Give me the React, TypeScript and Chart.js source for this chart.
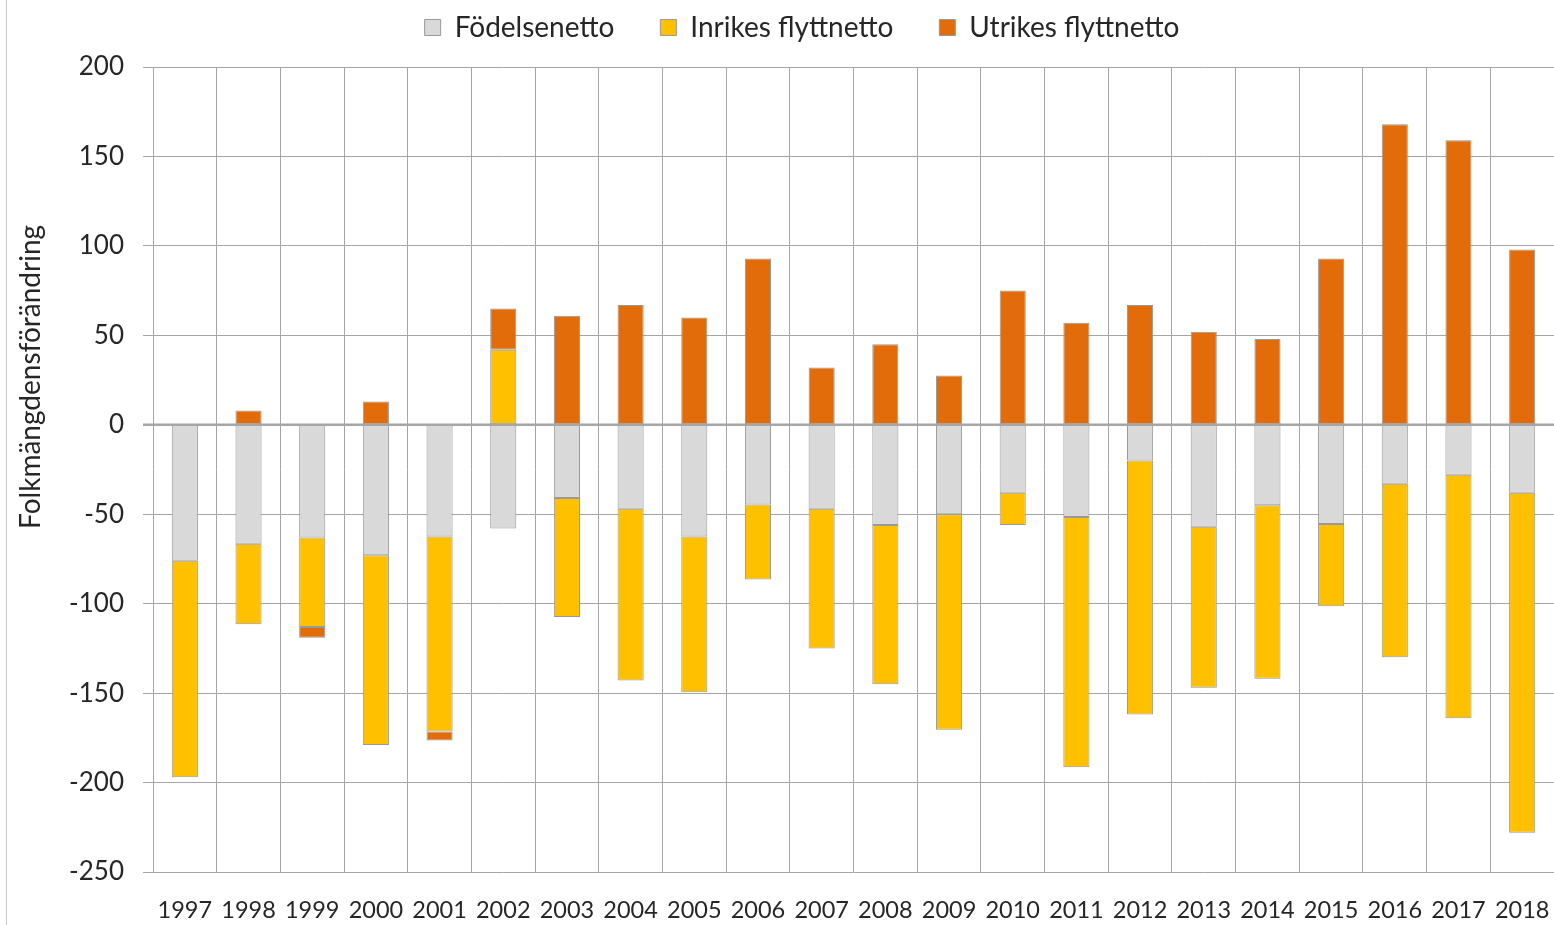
import React, { useEffect, useRef } from "react";
import { Chart, registerables } from "chart.js";

Chart.register(...registerables);

const years = ["1997", "1998", "1999", "2000", "2001", "2002", "2003", "2004", "2005", "2006", "2007", "2008", "2009", "2010", "2011", "2012", "2013", "2014", "2015", "2016", "2017", "2018"];
const fodelsenetto = [-76, -66.5, -63, -73, -62.5, -58, -41, -47, -62.5, -44.5, -47, -56, -50, -38, -51.5, -20, -57, -45, -55.5, -33, -28, -38];
const inrikesFlyttnetto = [-121, -45, -50, -106, -109, 42, -66.5, -96, -87, -42, -78, -89, -120.5, -18, -140, -142, -90, -97, -46, -97, -136, -190];
const utrikesFlyttnetto = [null, 8, -6, 13, -5, 23, 61, 67, 60, 93, 32, 45, 27.5, 75, 57, 67, 52, 48, 93, 168, 159, 98];
const yTicks = [-250, -200, -150, -100, -50, 0, 50, 100, 150, 200];

const seriesNames = ["Födelsenetto", "Inrikes flyttnetto", "Utrikes flyttnetto"];
const seriesColors = ["#d9d9d9", "#ffc000", "#e36c0a"];
const yTitle = "Folkmängdensförändring";

const FONT = "Lato";
const GRID = "#a6a6a6";
const TEXT = "#262626";
const LEFT_PAD = 50;

const zeroLinePlugin = {
  id: "zeroLine",
  afterDatasetsDraw(chart: any) {
    const { ctx, chartArea, scales } = chart;
    const y = scales.y.getPixelForValue(0);
    ctx.save();
    ctx.strokeStyle = GRID;
    ctx.lineWidth = 2.5;
    ctx.beginPath();
    ctx.moveTo(chartArea.left - 10, y);
    ctx.lineTo(chartArea.right, y);
    ctx.stroke();
    ctx.restore();
  },
};

const yTitlePlugin = {
  id: "yTitleCustom",
  afterDraw(chart: any) {
    const { ctx, chartArea } = chart;
    ctx.save();
    ctx.translate(31, chartArea.top + chartArea.height * 0.385);
    ctx.rotate(-Math.PI / 2);
    ctx.font = `28px ${FONT}`;
    ctx.fillStyle = TEXT;
    ctx.textAlign = "center";
    ctx.textBaseline = "middle";
    ctx.fillText(yTitle, 0, 0);
    ctx.restore();
  },
};

export default function App() {
  const canvasRef = useRef<HTMLCanvasElement | null>(null);

  useEffect(() => {
    const canvas = canvasRef.current;
    if (!canvas) return;
    const dataSeries = [fodelsenetto, inrikesFlyttnetto, utrikesFlyttnetto];
    const chart = new Chart(canvas, {
      type: "bar",
      data: {
        labels: years,
        datasets: dataSeries.map((d, i) => ({
          label: seriesNames[i],
          data: d as any,
          backgroundColor: seriesColors[i],
          borderColor: "#999999",
          borderWidth: 1,
          borderSkipped: false,
          barPercentage: 0.41,
          categoryPercentage: 1,
        })),
      },
      options: {
        responsive: false,
        animation: false,
        devicePixelRatio: 1,
        layout: { padding: { left: LEFT_PAD, top: -32.5, right: 0, bottom: 0 } },
        plugins: {
          legend: {
            position: "top",
            labels: {
              font: { family: FONT, size: 28 },
              color: TEXT,
              boxWidth: 16,
              boxHeight: 16,
              padding: 46,
            },
          },
          subtitle: {
            display: true,
            text: " ",
            position: "top",
            weight: 500,
            font: { size: 1 },
            padding: { top: 0, bottom: 14.3 },
          } as any,
          tooltip: { enabled: false },
        },
        scales: {
          x: {
            stacked: true,
            offset: true,
            grid: { offset: true, color: GRID, lineWidth: 1, drawTicks: false },
            border: { display: false },
            ticks: {
              autoSkip: false,
              maxRotation: 0,
              minRotation: 0,
              font: { family: FONT, size: 23.5, lineHeight: 3.23 },
              color: TEXT,
              padding: 0,
            },
            afterFit: (scale: any) => {
              scale.height = 53;
            },
          },
          y: {
            stacked: true,
            min: -250,
            max: 200,
            afterBuildTicks: (scale: any) => {
              scale.ticks = yTicks.map((v) => ({ value: v }));
            },
            grid: { color: GRID, lineWidth: 1, tickLength: 10 },
            border: { display: false },
            ticks: {
              font: { family: FONT, size: 26 },
              color: TEXT,
              padding: 19,
            },
            afterFit: (scale: any) => {
              scale.width = 153 - LEFT_PAD;
            },
          },
        },
      },
      plugins: [zeroLinePlugin, yTitlePlugin],
    });
    return () => chart.destroy();
  }, []);

  return (
    <div style={{ position: "fixed", left: 0, top: 0, width: 1554, height: 925, background: "#fff" }}>
      <div style={{ position: "absolute", left: 6, top: 0, width: 1, height: 925, background: "#c8c8c8" }} />
      <canvas ref={canvasRef} width={1554} height={925} style={{ position: "absolute", left: 0, top: 0 }} />
    </div>
  );
}
